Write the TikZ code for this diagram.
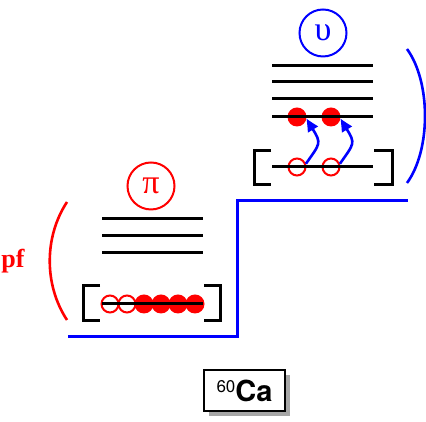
\documentclass[tikz,border=0pt]{standalone}
\usepackage{fontspec}
\usepackage{tikz}
\usetikzlibrary{arrows.meta,bending,shadows,positioning}
\newfontfamily\heros{TeX Gyre Heros}
\newfontfamily\libserif{Liberation Serif}

\tikzset{
	level/.style={line width=3pt, black},
	bracket/.style={line width=3pt, black},
	hole/.style={circle, draw=red, line width=2pt, minimum size=17pt, inner sep=0pt},
	part/.style={circle, fill=red, minimum size=19pt, inner sep=0pt},
	badge/.style={circle, draw, line width=2pt, minimum size=47pt, inner sep=0pt, font=\libserif\fontsize{34}{34}\selectfont},
	pairjump/.style={blue, line width=2.6pt, -{Triangle[length=13pt, width=11pt, bend]}},
	cabox/.style={draw, fill=white, line width=1.4pt, minimum width=81pt, minimum height=41pt,
		inner sep=0pt, drop shadow={shadow xshift=5pt, shadow yshift=-5pt, fill=gray!70, opacity=1}}
}

\begin{document}
\begin{tikzpicture}[x=1pt,y=1pt]
			\useasboundingbox (0,0) rectangle (426,422);

			% Step (blue)
			\draw[blue, line width=3pt] (68,85) -- (237,85) -- (237,221) -- (408,221);

			% Proton side
			\node[badge, red] (pi) at (151,236) {π};
			\foreach \y in {203,186,169}
				\draw[level] (102,\y) -- (203,\y);
			\draw[bracket] (100,136) -- (83,136) -- (83,101) -- (100,101);
			\draw[bracket] (204,136) -- (220,136) -- (220,101) -- (204,101);
			\node[hole] (ph1) at (110,118) {};
			\node[hole] (ph2) at (127,118) {};
			\foreach \x [count=\i] in {144,161,178,195}
				\node[part] (pp\i) at (\x,118) {};
			\draw[level] (102,118) -- (203,118);
			\draw[red, line width=2.6pt] (67,220) .. controls (44,185) and (44,137) .. (67,102);
			\node[red, font=\libserif\bfseries\fontsize{26}{26}\selectfont] (pf) at (13,161) {pf};

			% Neutron side
			\node[badge, blue] (nu) at (323,389) {υ};
			\foreach \y in {356,340,323}
				\draw[level] (272,\y) -- (373,\y);
			\draw[bracket] (271,271) -- (254,271) -- (254,237) -- (271,237);
			\draw[bracket] (374,271) -- (392,271) -- (392,237) -- (374,237);
			\node[part] (nf1) at (297,305) {};
			\node[part] (nf2) at (331,305) {};
			\draw[level] (272,305) -- (373,305);
			\node[hole] (nh1) at (297,255) {};
			\node[hole] (nh2) at (331,255) {};
			\draw[level] (272,255) -- (373,255);
			\draw[blue, line width=2.6pt] (407,373) .. controls (431,340) and (431,272) .. (407,239);

			% Pair jumps
			\draw[pairjump] (nh1.20) to[out=55, in=-60, looseness=1.7] (nf1.-10);
			\draw[pairjump] (nh2.20) to[out=55, in=-60, looseness=1.7] (nf2.-10);

			% Nucleus label
			\node[cabox] (ca) at (244.5,31.5) {\heros\raisebox{9pt}{\fontsize{17}{17}\selectfont 60}\fontsize{29}{29}\selectfont\bfseries Ca};
		\end{tikzpicture}
\end{document}
